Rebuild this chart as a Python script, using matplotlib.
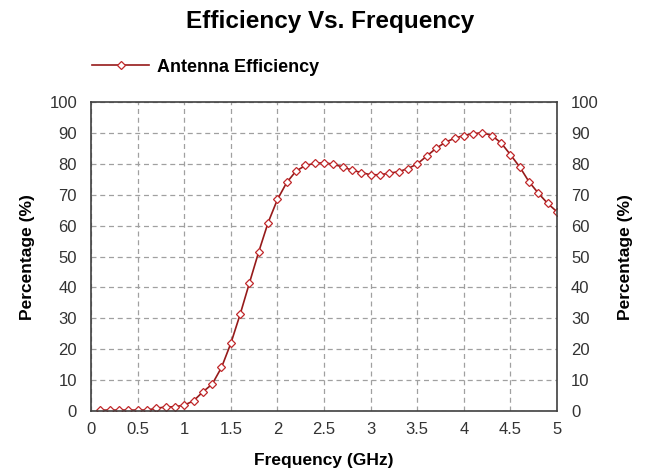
import numpy as np
import matplotlib
matplotlib.use("Agg")
import matplotlib.pyplot as plt

plt.rcParams["font.family"] = ["Liberation Sans", "DejaVu Sans"]

# Datos (frecuencia en GHz, eficiencia en %)
freq = [round(0.1 * i, 1) for i in range(1, 51)]
efficiency = [
    0.3, 0.3, 0.3, 0.3, 0.3, 0.3, 0.9, 1.3, 1.4, 1.9,
    3.3, 6.2, 8.7, 14.1, 21.9, 31.3, 41.5, 51.6, 61.0, 68.5,
    74.0, 77.7, 79.5, 80.2, 80.4, 79.9, 79.0, 78.0, 77.2, 76.5,
    76.5, 77.0, 77.5, 78.5, 80.0, 82.5, 85.0, 87.0, 88.3, 89.2,
    89.8, 90.1, 89.2, 86.8, 83.0, 79.0, 74.2, 70.5, 67.2, 64.5,
]
x_ticks = [0, 0.5, 1, 1.5, 2, 2.5, 3, 3.5, 4, 4.5, 5]
x_tick_labels = ["0", "0.5", "1", "1.5", "2", "2.5", "3", "3.5", "4", "4.5", "5"]
y_ticks = list(range(0, 101, 10))

fig = plt.figure(figsize=(6.5, 4.73), dpi=100)
ax = fig.add_axes([0.14, 0.131, 0.717, 0.653])

ax.plot(freq, efficiency, color="#961a1a", linewidth=1.2,
        marker="D", markersize=4.5, markerfacecolor="white",
        markeredgecolor="#c0282a", markeredgewidth=0.9,
        label="Antenna Efficiency")

ax.set_xlim(0, 5)
ax.set_ylim(0, 100)
ax.set_xticks(x_ticks)
ax.set_xticklabels(x_tick_labels)
ax.set_yticks(y_ticks)
ax.grid(True, color="#a0a0a0", linestyle=(0, (4, 3)), linewidth=0.9)
ax.tick_params(axis="y", length=0, labelsize=12, colors="#333333", pad=10)
ax.tick_params(axis="x", length=0, labelsize=12, colors="#333333", pad=8)
for s in ax.spines.values():
    s.set_color("#404040")
    s.set_linewidth(1.2)

ax2 = ax.twinx()
ax2.set_ylim(0, 100)
ax2.set_yticks(y_ticks)
ax2.tick_params(length=0, labelsize=12, colors="#333333", pad=10)
for s in ax2.spines.values():
    s.set_visible(False)

# Titulos y ejes
ax.set_xlabel("Frequency (GHz)", fontsize=12.5, fontweight="bold")
ax.xaxis.set_label_coords(0.5, -0.135)
ax.set_ylabel("Percentage (%)", fontsize=12.5, fontweight="bold")
ax.yaxis.set_label_coords(-0.12, 0.5)
ax2.set_ylabel("Percentage (%)", fontsize=12.5, fontweight="bold", rotation=90)
ax2.yaxis.set_label_coords(1.131, 0.5)
fig.text(0.508, 0.955, "Efficiency Vs. Frequency", ha="center", va="center",
         fontsize=17.5, fontweight="bold")

ax.legend(loc="center left", bbox_to_anchor=(0.141, 0.858), bbox_transform=fig.transFigure,
          frameon=False, prop={"size": 13, "weight": "bold"},
          handlelength=3.2, handletextpad=0.4, borderpad=0, borderaxespad=0)

fig.savefig("out.png", dpi=100)
